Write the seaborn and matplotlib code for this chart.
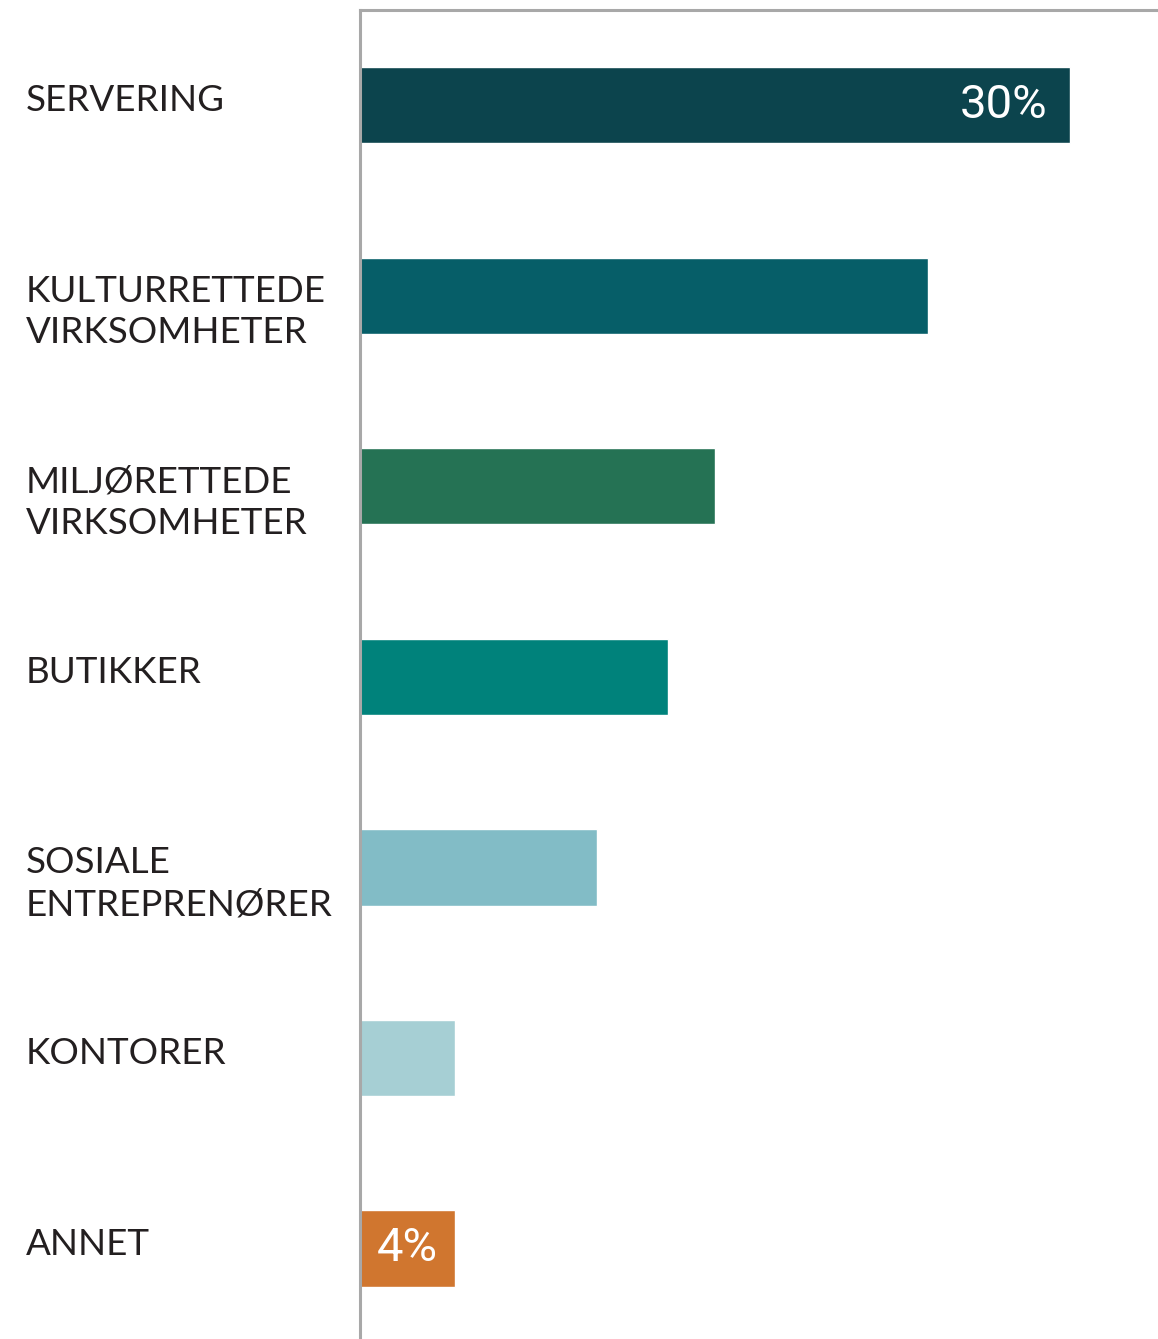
import pandas as pd
import matplotlib.pyplot as plt
import matplotlib.transforms as mtransforms
import seaborn as sns

# Data
categories = ["SERVERING", "KULTURRETTEDE\nVIRKSOMHETER", "MILJØRETTEDE\nVIRKSOMHETER",
              "BUTIKKER", "SOSIALE\nENTREPRENØRER", "KONTORER", "ANNET"]
values = [30, 24, 15, 13, 10, 4, 4]
colors = ["#0c444d", "#065e68", "#257254", "#00827b", "#82bcc6", "#a6cfd4", "#d0762f"]
value_labels = ["30%", "", "", "", "", "", "4%"]

df = pd.DataFrame({"kategori": categories, "andel": values})

sns.set_style("white")
plt.rcParams['font.family'] = ['Lato', 'DejaVu Sans']

fig = plt.figure(figsize=(11.58, 13.39), dpi=100)
ax = fig.add_axes([360 / 1158, 0, 798 / 1158, 1 - 10 / 1339])

sns.barplot(data=df, y="kategori", x="andel", hue="kategori", order=categories,
            palette=dict(zip(categories, colors)), legend=False, width=0.4,
            saturation=1, ax=ax)

ax.set_xlim(0, 798 / (710 / 30))
ax.set_ylim(6.475, -0.5)

# Akser: bare venstre og topp
for side in ["right", "bottom"]:
    ax.spines[side].set_visible(False)
for side in ["left", "top"]:
    ax.spines[side].set_color("#a8a8a8")
    ax.spines[side].set_linewidth(2.2)

ax.set_xticks([])
ax.set_yticks([])
ax.set_xlabel("")
ax.set_ylabel("")

# Kategorinavn til venstre
trans = mtransforms.blended_transform_factory(fig.transFigure, ax.transData)
for i, cat in enumerate(categories):
    ax.text(26 / 1158, i - 0.11, cat, transform=trans, ha="left", va="top",
            fontsize=26.5, color="#231f20", linespacing=1.32, clip_on=False)

# Verdietiketter
for i, (v, lab) in enumerate(zip(values, value_labels)):
    if not lab:
        continue
    if v >= 10:
        ax.annotate(lab, (v, i), xytext=(-16, 0), textcoords="offset points",
                    ha="right", va="center", color="white", fontsize=34,
                    family=["Roboto", "DejaVu Sans"])
    else:
        ax.text(v / 2, i, lab, ha="center", va="center", color="white",
                fontsize=34, family=["Roboto", "DejaVu Sans"])

fig.savefig("out.png", dpi=100)
